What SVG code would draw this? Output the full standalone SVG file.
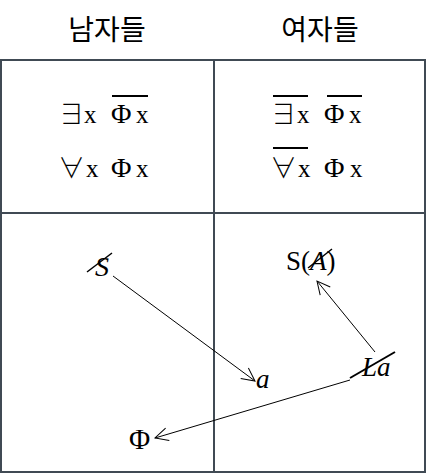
<svg xmlns="http://www.w3.org/2000/svg" width="428" height="474" viewBox="0 0 428 474">
<style>
.grid{stroke:#404a54;stroke-width:2;fill:none}
.hd{font-family:"Noto Sans CJK KR","Noto Sans",sans-serif;font-size:28px;fill:#000;text-anchor:middle}
.f{font-family:"Liberation Serif","Times New Roman",serif;font-size:25px;fill:#000}
.p{font-family:"Liberation Serif","Times New Roman",serif;font-size:28px;fill:#000}
.q{font-family:"Noto Sans CJK KR","DejaVu Sans",sans-serif;font-size:27px;font-weight:300;fill:#000}
.m{font-family:"Liberation Serif","Times New Roman",serif;font-size:27px;fill:#000}
.it{font-style:italic}
.ov{stroke:#000;stroke-width:2}
.sl{stroke:#000;stroke-width:1.5}
.c{stroke:#000;stroke-width:1;fill:none;marker-end:url(#ah)}
</style>
<defs>
<marker id="ah" markerUnits="userSpaceOnUse" markerWidth="16" markerHeight="16" refX="14" refY="8" orient="auto" viewBox="0 0 16 16">
<path d="M1,1.5 L14,8 L1,14.5" fill="none" stroke="#000" stroke-width="1"/>
</marker>
</defs>
<rect width="428" height="474" fill="#fff"/>
<g id="headers">
<text class="hd" x="107" y="40">남자들</text>
<text class="hd" x="320" y="40">여자들</text>
</g>
<g id="grid">
<rect class="grid" x="1" y="60" width="424" height="412"/>
<line class="grid" x1="214" y1="60" x2="214" y2="472"/>
<line class="grid" x1="1" y1="213" x2="425" y2="213"/>
</g>
<g id="men-formulas">
<text y="123"><tspan class="q" x="58" y="124">∃</tspan><tspan class="f" x="84" y="123">x</tspan><tspan class="p" x="111">Φ</tspan><tspan class="f" x="136">x</tspan></text>
<line class="ov" x1="112" y1="96" x2="148" y2="96"/>
<text y="177"><tspan class="q" x="58" y="178">∀</tspan><tspan class="f" x="86" y="177">x</tspan><tspan class="p" x="111">Φ</tspan><tspan class="f" x="136">x</tspan></text>
</g>
<g id="women-formulas">
<text y="123"><tspan class="q" x="270" y="124">∃</tspan><tspan class="f" x="297" y="123">x</tspan><tspan class="p" x="324">Φ</tspan><tspan class="f" x="349">x</tspan></text>
<line class="ov" x1="273" y1="96" x2="308" y2="96"/>
<line class="ov" x1="327" y1="96" x2="362" y2="96"/>
<text y="177"><tspan class="q" x="270" y="178">∀</tspan><tspan class="f" x="298" y="177">x</tspan><tspan class="p" x="324">Φ</tspan><tspan class="f" x="350">x</tspan></text>
<line class="ov" x1="273" y1="148" x2="308" y2="148"/>
</g>
<g id="node-S-barred">
<text class="m it" x="95" y="276" style="font-size:28px">S</text>
<line class="sl" x1="87" y1="272" x2="112" y2="253"/>
</g>
<g id="node-a">
<text class="m it" x="256" y="388">a</text>
</g>
<g id="node-Phi">
<text class="m" x="129" y="449" style="font-size:29px">Φ</text>
</g>
<g id="node-S-A">
<text class="m" x="286" y="270">S(<tspan class="it">A</tspan>)</text>
<line class="sl" x1="308" y1="268" x2="332" y2="249"/>
</g>
<g id="node-La">
<text class="m it" x="362" y="376">La</text>
<line class="ov" x1="350" y1="378" x2="395" y2="352"/>
</g>
<g id="connectors">
<path class="c" d="M113,276 L255,381"/>
<path class="c" d="M350,380 L155,438"/>
<path class="c" d="M375,352 L317,281"/>
</g>
</svg>
